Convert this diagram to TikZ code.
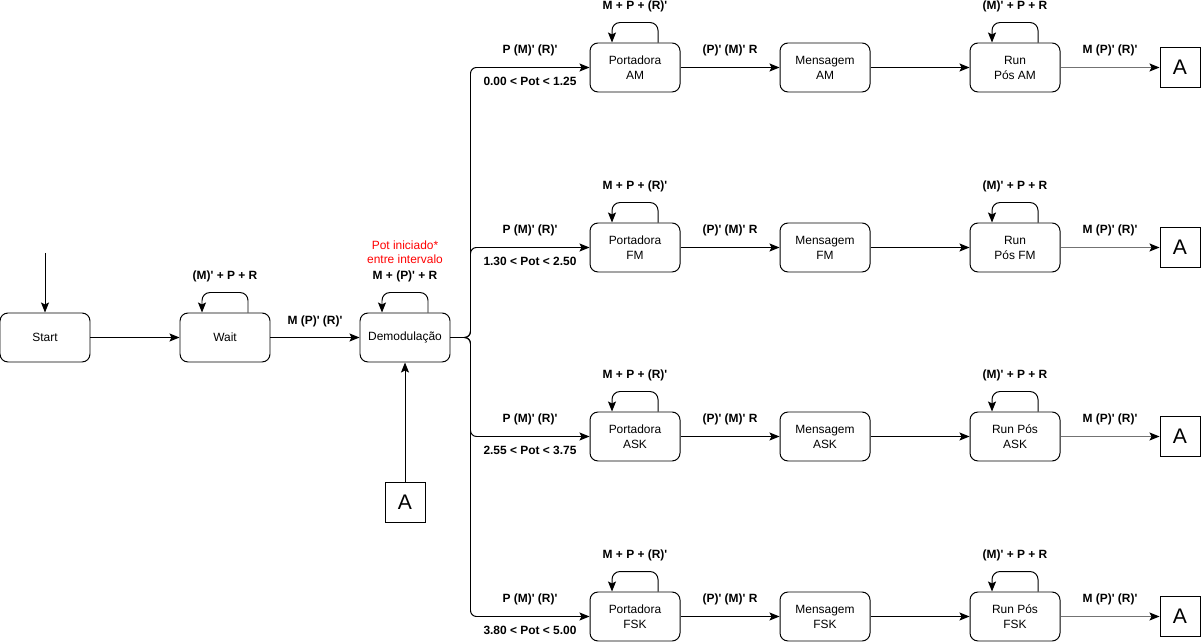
\documentclass[tikz,border=0pt]{standalone}
\usepackage{fontspec}
\setmainfont{Liberation Sans}
\usetikzlibrary{positioning,calc,arrows.meta}
\newcommand{\ap}{\textquotesingle}

\begin{document}
\begin{tikzpicture}[
	arr/.style={-{Stealth[length=0.25cm,width=0.2cm,inset=0.05cm]},line width=0.7pt},
	selfloop/.style={arr,rounded corners=0.2cm},
	branch/.style={arr,rounded corners=0.15cm},
	exitarr/.style={-{Stealth[length=0.25cm,width=0.2cm,inset=0.05cm,black]},line width=0.7pt,draw=black!55},
	state/.style={rectangle,draw=black,line width=0.7pt,rounded corners=0.2cm,minimum width=2.25cm,minimum height=1.225cm,align=center,font=\fontsize{8.5}{10.7}\selectfont},
	conn/.style={rectangle,draw=black,line width=0.7pt,minimum size=1cm,inner sep=0pt,font=\fontsize{15}{18}\selectfont},
	lbl/.style={font=\bfseries\fontsize{8.5}{10}\selectfont}]

    \useasboundingbox (0cm,0cm) rectangle (30.025cm,16.075cm);

    % main row
    \node (Start) at (1.125cm,7.6375cm) [state] {Start};
    \node (Wait) at (5.625cm,7.6375cm) [state] {Wait};
    \node (Demod) at (10.125cm,7.6375cm) [state] {Demodulação};
    \node (A0) at (10.125cm,3.525cm) [conn] {A};
    \coordinate (Init) at (1.125cm,9.75cm);

    \draw [arr] (Init) -- (Start);
    \draw [arr] (Start) -- (Wait);
    \draw [arr] (Wait) -- node [lbl,above=0.13cm] {M (P)\ap{} (R)\ap} (Demod);
    \draw [arr] (A0) -- (Demod);

    \draw [selfloop] ($(Wait.north)+(0.575cm,0)$) -- ++(0,0.5cm) -| ($(Wait.north)-(0.575cm,0)$);
    \node at ($(Wait.north)+(0,0.9cm)$) [lbl] {(M)\ap{} + P + R};
    \draw [selfloop] ($(Demod.north)+(0.575cm,0)$) -- ++(0,0.5cm) -| ($(Demod.north)-(0.575cm,0)$);
    \node at ($(Demod.north)+(0,0.9cm)$) [lbl] {M + (P)\ap{} + R};
    \node (Note) at (10.125cm,9.78cm) [text=red,align=center,font=\fontsize{8.5}{10}\selectfont] {Pot iniciado*\\entre intervalo};

    % AM
    \node (PortAM) at (15.875cm,14.3875cm) [state] {Portadora\\AM};
    \node (MsgAM) at (20.625cm,14.3875cm) [state] {Mensagem\\AM};
    \node (RunAM) at (25.375cm,14.3875cm) [state] {Run\\Pós AM};
    \node (AAM) at (29.5cm,14.3875cm) [conn] {A};
    \draw [branch] (Demod.east) -- ($(Demod.east)+(0.5cm,0)$) |- node [lbl,pos=.75,above=0.15cm] {P (M)\ap{} (R)\ap}
    	node [lbl,pos=.75,below=0.12cm] {0.00 < Pot < 1.25} (PortAM.west);
    \draw [arr] (PortAM) -- node [lbl,above=0.15cm] {(P)\ap{} (M)\ap{} R} (MsgAM);
    \draw [arr] (MsgAM) -- (RunAM);
    \draw [exitarr] (RunAM) -- node [lbl,above=0.15cm,text=black] {M (P)\ap{} (R)\ap} (AAM);
    \draw [selfloop] ($(PortAM.north)+(0.575cm,0)$) -- ++(0,0.5cm) -| ($(PortAM.north)-(0.575cm,0)$);
    \node at ($(PortAM.north)+(0,0.9cm)$) [lbl] {M + P + (R)\ap};
    \draw [selfloop] ($(RunAM.north)+(0.575cm,0)$) -- ++(0,0.5cm) -| ($(RunAM.north)-(0.575cm,0)$);
    \node at ($(RunAM.north)+(0,0.9cm)$) [lbl] {(M)\ap{} + P + R};

    % FM
    \node (PortFM) at (15.875cm,9.8875cm) [state] {Portadora\\FM};
    \node (MsgFM) at (20.625cm,9.8875cm) [state] {Mensagem\\FM};
    \node (RunFM) at (25.375cm,9.8875cm) [state] {Run\\Pós FM};
    \node (AFM) at (29.5cm,9.8875cm) [conn] {A};
    \draw [branch] (Demod.east) -- ($(Demod.east)+(0.5cm,0)$) |- node [lbl,pos=.75,above=0.15cm] {P (M)\ap{} (R)\ap}
    	node [lbl,pos=.75,below=0.12cm] {1.30 < Pot < 2.50} (PortFM.west);
    \draw [arr] (PortFM) -- node [lbl,above=0.15cm] {(P)\ap{} (M)\ap{} R} (MsgFM);
    \draw [arr] (MsgFM) -- (RunFM);
    \draw [exitarr] (RunFM) -- node [lbl,above=0.15cm,text=black] {M (P)\ap{} (R)\ap} (AFM);
    \draw [selfloop] ($(PortFM.north)+(0.575cm,0)$) -- ++(0,0.5cm) -| ($(PortFM.north)-(0.575cm,0)$);
    \node at ($(PortFM.north)+(0,0.9cm)$) [lbl] {M + P + (R)\ap};
    \draw [selfloop] ($(RunFM.north)+(0.575cm,0)$) -- ++(0,0.5cm) -| ($(RunFM.north)-(0.575cm,0)$);
    \node at ($(RunFM.north)+(0,0.9cm)$) [lbl] {(M)\ap{} + P + R};

    % ASK
    \node (PortASK) at (15.875cm,5.1625cm) [state] {Portadora\\ASK};
    \node (MsgASK) at (20.625cm,5.1625cm) [state] {Mensagem\\ASK};
    \node (RunASK) at (25.375cm,5.1625cm) [state] {Run Pós\\ASK};
    \node (AASK) at (29.5cm,5.1625cm) [conn] {A};
    \draw [branch] (Demod.east) -- ($(Demod.east)+(0.5cm,0)$) |- node [lbl,pos=.75,above=0.15cm] {P (M)\ap{} (R)\ap}
    	node [lbl,pos=.75,below=0.12cm] {2.55 < Pot < 3.75} (PortASK.west);
    \draw [arr] (PortASK) -- node [lbl,above=0.15cm] {(P)\ap{} (M)\ap{} R} (MsgASK);
    \draw [arr] (MsgASK) -- (RunASK);
    \draw [exitarr] (RunASK) -- node [lbl,above=0.15cm,text=black] {M (P)\ap{} (R)\ap} (AASK);
    \draw [selfloop] ($(PortASK.north)+(0.575cm,0)$) -- ++(0,0.5cm) -| ($(PortASK.north)-(0.575cm,0)$);
    \node at ($(PortASK.north)+(0,0.9cm)$) [lbl] {M + P + (R)\ap};
    \draw [selfloop] ($(RunASK.north)+(0.575cm,0)$) -- ++(0,0.5cm) -| ($(RunASK.north)-(0.575cm,0)$);
    \node at ($(RunASK.north)+(0,0.9cm)$) [lbl] {(M)\ap{} + P + R};

    % FSK
    \node (PortFSK) at (15.875cm,0.6625cm) [state] {Portadora\\FSK};
    \node (MsgFSK) at (20.625cm,0.6625cm) [state] {Mensagem\\FSK};
    \node (RunFSK) at (25.375cm,0.6625cm) [state] {Run Pós\\FSK};
    \node (AFSK) at (29.5cm,0.6625cm) [conn] {A};
    \draw [branch] (Demod.east) -- ($(Demod.east)+(0.5cm,0)$) |- node [lbl,pos=.75,above=0.15cm] {P (M)\ap{} (R)\ap}
    	node [lbl,pos=.75,below=0.12cm] {3.80 < Pot < 5.00} (PortFSK.west);
    \draw [arr] (PortFSK) -- node [lbl,above=0.15cm] {(P)\ap{} (M)\ap{} R} (MsgFSK);
    \draw [arr] (MsgFSK) -- (RunFSK);
    \draw [exitarr] (RunFSK) -- node [lbl,above=0.15cm,text=black] {M (P)\ap{} (R)\ap} (AFSK);
    \draw [selfloop] ($(PortFSK.north)+(0.575cm,0)$) -- ++(0,0.5cm) -| ($(PortFSK.north)-(0.575cm,0)$);
    \node at ($(PortFSK.north)+(0,0.9cm)$) [lbl] {M + P + (R)\ap};
    \draw [selfloop] ($(RunFSK.north)+(0.575cm,0)$) -- ++(0,0.5cm) -| ($(RunFSK.north)-(0.575cm,0)$);
    \node at ($(RunFSK.north)+(0,0.9cm)$) [lbl] {(M)\ap{} + P + R};

\end{tikzpicture}
\end{document}
